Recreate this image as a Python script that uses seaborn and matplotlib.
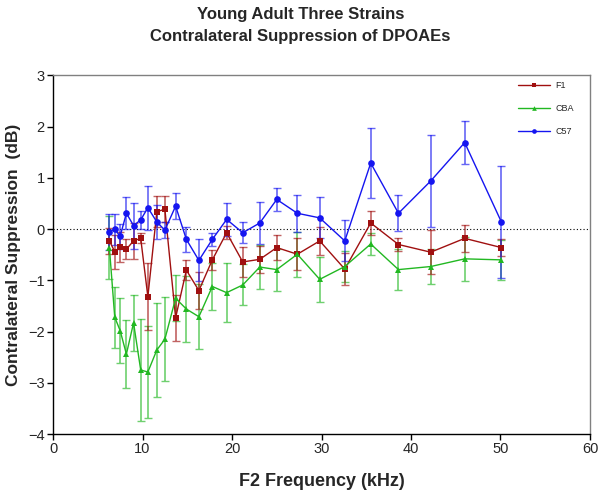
import matplotlib
matplotlib.use("Agg")
import matplotlib.pyplot as plt
import seaborn as sns
import pandas as pd
import numpy as np

freq = [6.3, 6.9, 7.5, 8.2, 9.0, 9.8, 10.6, 11.6, 12.5, 13.7, 14.9, 16.3, 17.8,
        19.4, 21.2, 23.1, 25.0, 27.3, 29.8, 32.6, 35.5, 38.6, 42.2, 46.0, 50.1]

f1_mean = [-0.23, -0.44, -0.35, -0.39, -0.23, -0.18, -1.32, 0.34, 0.39, -1.73, -0.80, -1.20, -0.60,
           -0.07, -0.64, -0.59, -0.36, -0.49, -0.23, -0.78, 0.12, -0.30, -0.45, -0.18, -0.36]
f1_err = [0.25, 0.33, 0.30, 0.20, 0.35, 0.10, 0.65, 0.30, 0.25, 0.45, 0.20, 0.36, 0.20,
          0.13, 0.30, 0.27, 0.25, 0.31, 0.28, 0.31, 0.23, 0.13, 0.43, 0.27, 0.17]

cba_mean = [-0.36, -1.72, -1.98, -2.44, -1.83, -2.75, -2.79, -2.36, -2.15, -1.35, -1.56, -1.71, -1.12,
            -1.24, -1.09, -0.74, -0.79, -0.49, -0.98, -0.73, -0.29, -0.79, -0.73, -0.58, -0.60]
cba_err = [0.62, 0.60, 0.63, 0.66, 0.55, 1.00, 0.90, 0.92, 0.82, 0.45, 0.65, 0.64, 0.45,
           0.58, 0.40, 0.43, 0.41, 0.44, 0.44, 0.30, 0.22, 0.40, 0.35, 0.43, 0.39]

c57_mean = [-0.05, 0.00, -0.14, 0.31, 0.07, 0.18, 0.42, 0.14, -0.02, 0.45, -0.20, -0.61, -0.20,
            0.19, -0.07, 0.12, 0.58, 0.31, 0.22, -0.23, 1.29, 0.31, 0.94, 1.69, 0.14]
c57_err = [0.35, 0.30, 0.24, 0.31, 0.45, 0.18, 0.43, 0.34, 0.15, 0.26, 0.24, 0.41, 0.12,
           0.33, 0.21, 0.41, 0.23, 0.36, 0.40, 0.40, 0.68, 0.35, 0.90, 0.42, 1.09]

strains = ["F1", "CBA", "C57"]
colors = {"F1": "#A01010", "CBA": "#22B822", "C57": "#1515F0"}
markers = {"F1": "s", "CBA": "^", "C57": "o"}

means = {"F1": f1_mean, "CBA": cba_mean, "C57": c57_mean}
errs = {"F1": f1_err, "CBA": cba_err, "C57": c57_err}

rows = []
for s in strains:
    for f, m, e in zip(freq, means[s], errs[s]):
        rows.append({"freq": f, "supp": m, "err": e, "strain": s})
df = pd.DataFrame(rows)

sns.set_style("white")
plt.rcParams['font.family'] = ['Liberation Sans', 'DejaVu Sans']

W, H = 601, 494
fig = plt.figure(figsize=(6.01, 4.94), dpi=100)
ax = fig.add_axes([53 / W, 1 - 434 / H, (590 - 53) / W, (434 - 75.5) / H])

ax.axhline(0, color="black", linestyle=(0, (1, 2)), linewidth=0.8, zorder=1)

draw_order = ["CBA", "F1", "C57"]
for i, s in enumerate(draw_order):
    d = df[df["strain"] == s]
    ax.errorbar(d["freq"], d["supp"], yerr=d["err"], fmt="none",
                ecolor=colors[s], alpha=0.65, elinewidth=1.2, capsize=3,
                capthick=1.0, zorder=2 + i)

sns.lineplot(data=df, x="freq", y="supp", hue="strain", style="strain",
             hue_order=strains, style_order=strains, palette=colors,
             markers=markers, dashes=False, linewidth=1.0, markersize=4.8,
             markeredgewidth=0, sort=True, ax=ax, zorder=6, estimator=None)

ax.set_xlim(0, 60)
ax.set_ylim(-4, 3)
ax.set_xticks([0, 10, 20, 30, 40, 50, 60])
ax.set_yticks([-4, -3, -2, -1, 0, 1, 2, 3])
ax.tick_params(axis="both", which="major", direction="out", length=4, width=1,
               labelsize=10.5, color="black", bottom=True, left=True, pad=2)

for side in ["left", "bottom"]:
    ax.spines[side].set_color("black")
    ax.spines[side].set_linewidth(1.0)
for side in ["top", "right"]:
    ax.spines[side].set_color("#808080")
    ax.spines[side].set_linewidth(1.0)
    ax.spines[side].set_visible(True)

ax.set_xlabel("F2 Frequency (kHz)", fontsize=13, fontweight="bold", labelpad=12)
ax.set_ylabel("Contralateral Suppression  (dB)", fontsize=12.5, fontweight="bold", labelpad=5)
fig.text(0.5, 1 - 25.5 / H, "Young Adult Three Strains\nContralateral Suppression of DPOAEs",
         ha="center", va="center", fontsize=12, fontweight="bold", linespacing=1.5)

handles, labels = ax.get_legend_handles_labels()
leg = ax.legend(handles, labels, loc="upper left", frameon=False, fontsize=6.5,
                handlelength=3.5, handletextpad=0.6, labelspacing=1.55,
                borderpad=0, borderaxespad=0, markerscale=0.7,
                bbox_to_anchor=(518 / W, 1 - 81 / H), bbox_transform=fig.transFigure)

fig.savefig("out.png", dpi=100)
